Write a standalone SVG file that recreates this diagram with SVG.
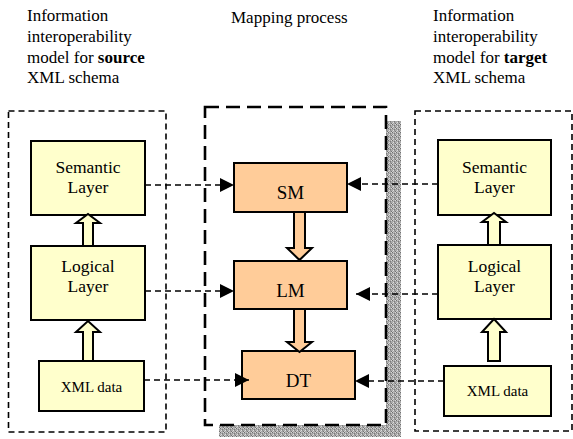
<svg xmlns="http://www.w3.org/2000/svg" width="573" height="439" viewBox="0 0 573 439" font-family="Liberation Serif, Tinos, DejaVu Serif, serif">
  <style>
    text { font-family: "Liberation Serif", Tinos, "DejaVu Serif", serif; fill: #000; }
    .cap { font-size: 17px; }
    .lbl { font-size: 17.5px; text-anchor: middle; }
    .small { font-size: 15px; text-anchor: middle; }
    .map { font-size: 19px; text-anchor: middle; }
    .layer { fill: #FFFFCC; stroke: #000; stroke-width: 2; }
    .mapbox { fill: #FFCC99; stroke: #000; stroke-width: 2; }
    .frame { fill: none; stroke: #000; stroke-width: 1.6; stroke-dasharray: 6 4; }
    .frame-main { fill: #fff; stroke: #000; stroke-width: 2.6; stroke-dasharray: 14 7; }
    .link { fill: none; stroke: #000; stroke-width: 1.6; stroke-dasharray: 6 4; }
    .up { fill: #FFFFCC; stroke: #000; stroke-width: 2; stroke-linejoin: miter; }
    .down { fill: #FFCC99; stroke: #000; stroke-width: 2; stroke-linejoin: miter; }
  </style>
  <defs>
    <pattern id="grain" width="4" height="4" patternUnits="userSpaceOnUse">
      <rect width="4" height="4" fill="#a9a9a9"/>
      <rect x="0" y="0" width="1" height="1" fill="#6e6e6e"/>
      <rect x="2" y="1" width="1" height="1" fill="#7c7c7c"/>
      <rect x="1" y="2" width="1" height="1" fill="#dedede"/>
      <rect x="3" y="3" width="1" height="1" fill="#747474"/>
      <rect x="3" y="0" width="1" height="1" fill="#d6d6d6"/>
      <rect x="0" y="3" width="1" height="1" fill="#cfcfcf"/>
      <rect x="2" y="2" width="1" height="1" fill="#8e8e8e"/>
      <rect x="1" y="0" width="1" height="1" fill="#c2c2c2"/>
    </pattern>
    <marker id="tip" viewBox="0 0 14 14" refX="14" refY="7" markerWidth="14" markerHeight="14" markerUnits="userSpaceOnUse" orient="auto">
      <path d="M0,0 L14,7 L0,14 Z" fill="#000"/>
    </marker>
  </defs>

  <!-- headings -->
  <g id="heading-source">
    <text class="cap" x="27" y="21">Information</text>
    <text class="cap" x="27" y="42">interoperability</text>
    <text class="cap" x="27" y="63">model for <tspan font-weight="bold">source</tspan></text>
    <text class="cap" x="27" y="83">XML schema</text>
  </g>
  <g id="heading-mapping">
    <text class="cap" x="231" y="23">Mapping process</text>
  </g>
  <g id="heading-target">
    <text class="cap" x="433" y="21">Information</text>
    <text class="cap" x="433" y="42">interoperability</text>
    <text class="cap" x="433" y="63">model for <tspan font-weight="bold">target</tspan></text>
    <text class="cap" x="433" y="83">XML schema</text>
  </g>

  <!-- frames -->
  <g id="frame-source">
    <rect class="frame" x="8.5" y="111" width="157.5" height="321"/>
  </g>
  <g id="frame-mapping">
    <rect x="219" y="121" width="182" height="316" fill="url(#grain)"/>
    <rect class="frame-main" x="205" y="107" width="181" height="318"/>
  </g>
  <g id="frame-target">
    <rect class="frame" x="415" y="111" width="157" height="320"/>
  </g>

  <!-- source model layers -->
  <g id="src-semantic">
    <rect class="layer" x="31" y="141" width="114" height="74"/>
    <text class="lbl" x="88" y="173">Semantic</text>
    <text class="lbl" x="88" y="193">Layer</text>
  </g>
  <g id="src-logical">
    <rect class="layer" x="31" y="246" width="114" height="74"/>
    <text class="lbl" x="88" y="272">Logical</text>
    <text class="lbl" x="88" y="292">Layer</text>
  </g>
  <g id="src-xml">
    <rect class="layer" x="39" y="361" width="105" height="50"/>
    <text class="small" x="91.5" y="392">XML data</text>
  </g>

  <!-- mapping steps -->
  <g id="map-sm">
    <rect class="mapbox" x="234" y="163" width="113" height="49"/>
    <text class="map" x="290.5" y="199">SM</text>
  </g>
  <g id="map-lm">
    <rect class="mapbox" x="234" y="261" width="113" height="48"/>
    <text class="map" x="290.5" y="297">LM</text>
  </g>
  <g id="map-dt">
    <rect class="mapbox" x="242" y="351" width="113" height="48"/>
    <text class="map" x="298.5" y="387">DT</text>
  </g>

  <!-- target model layers -->
  <g id="tgt-semantic">
    <rect class="layer" x="438" y="140" width="113" height="75"/>
    <text class="lbl" x="494.5" y="173">Semantic</text>
    <text class="lbl" x="494.5" y="193">Layer</text>
  </g>
  <g id="tgt-logical">
    <rect class="layer" x="438" y="245" width="113" height="74"/>
    <text class="lbl" x="494.5" y="272">Logical</text>
    <text class="lbl" x="494.5" y="292">Layer</text>
  </g>
  <g id="tgt-xml">
    <rect class="layer" x="444" y="366" width="107" height="50"/>
    <text class="small" x="497.5" y="396">XML data</text>
  </g>

  <!-- connectors -->
  <g id="connectors">
    <!-- block arrows inside the source model -->
    <path class="up" d="M83,246 L83,223 L76,223 L88,214 L100,223 L93,223 L93,246 Z"/>
    <path class="up" d="M83,361 L83,332 L76,332 L88,321 L100,332 L93,332 L93,361 Z"/>
    <!-- block arrows inside the target model -->
    <path class="up" d="M488,245 L488,222 L482,222 L494,213 L506,222 L500,222 L500,245 Z"/>
    <path class="up" d="M488,361 L488,332 L482,332 L494,319 L506,332 L500,332 L500,361 Z"/>
    <!-- block arrows between mapping steps -->
    <path class="down" d="M294,212 L294,248 L287,248 L299.5,260 L312,248 L305,248 L305,212 Z"/>
    <path class="down" d="M294,309 L294,342 L287,342 L299.5,352 L312,342 L305,342 L305,309 Z"/>
    <!-- dashed links from source layers -->
    <line class="link" x1="145" y1="185" x2="234" y2="185" marker-end="url(#tip)"/>
    <line class="link" x1="145" y1="291" x2="234" y2="291" marker-end="url(#tip)"/>
    <line class="link" x1="144" y1="380" x2="249" y2="380" marker-end="url(#tip)"/>
    <!-- dashed links from target layers -->
    <line class="link" x1="438" y1="184" x2="347" y2="184" marker-end="url(#tip)"/>
    <line class="link" x1="438" y1="294" x2="356" y2="294" marker-end="url(#tip)"/>
    <line class="link" x1="444" y1="381" x2="355" y2="381" marker-end="url(#tip)"/>
  </g>
</svg>
